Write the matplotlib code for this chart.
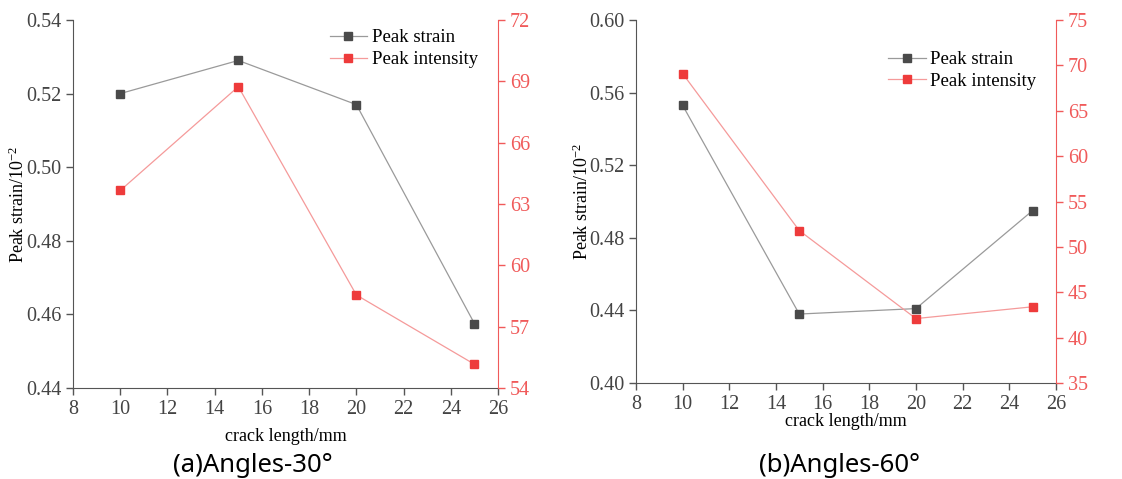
import matplotlib.pyplot as plt
import numpy as np

plt.rcParams['font.family'] = ['Liberation Serif', 'DejaVu Serif']
plt.rcParams['mathtext.fontset'] = 'custom'
plt.rcParams['mathtext.rm'] = 'Liberation Serif'
plt.rcParams['mathtext.it'] = 'Liberation Serif:italic'
plt.rcParams['axes.unicode_minus'] = False

crack_length = [10, 15, 20, 25]

strain_30 = [0.520, 0.529, 0.517, 0.4575]
intensity_30 = [63.66, 68.74, 58.55, 55.16]

strain_60 = [0.553, 0.438, 0.441, 0.495]
intensity_60 = [69.1, 51.8, 42.1, 43.4]

GRAY_LINE = '#9a9a9a'
GRAY_MARK = '#4a4a4a'
RED_LINE = '#f59a9a'
RED_MARK = '#ee3b3b'
RED_AXIS = '#f05a5a'
TICK_TXT = '#444444'

fig = plt.figure(figsize=(11.22, 4.79), dpi=100)


def draw_panel(rect, strain, intensity, ylim1, yticks1, ylim2, yticks2,
               xlabel_y, caption, caption_x, legend_anchor):
    ax = fig.add_axes(rect)
    ax2 = ax.twinx()

    l1, = ax.plot(crack_length, strain, color=GRAY_LINE, lw=0.9,
                  marker='s', ms=6, mfc=GRAY_MARK, mec=GRAY_MARK,
                  label='Peak strain')
    l2, = ax2.plot(crack_length, intensity, color=RED_LINE, lw=0.9,
                   marker='s', ms=6, mfc=RED_MARK, mec=RED_MARK,
                   label='Peak intensity')

    ax.set_xlim(8, 26)
    ax.set_xticks(np.arange(8, 27, 2))
    ax.set_ylim(*ylim1)
    ax.set_yticks(yticks1)
    ax.set_yticklabels([f'{v:.2f}' for v in yticks1])
    ax2.set_ylim(*ylim2)
    ax2.set_yticks(yticks2)

    for a in (ax, ax2):
        a.spines['top'].set_visible(False)
    ax.spines['right'].set_visible(False)
    ax.spines['left'].set_color('#555555')
    ax.spines['bottom'].set_color('#555555')
    ax2.spines['left'].set_visible(False)
    ax2.spines['bottom'].set_visible(False)
    ax2.spines['right'].set_color(RED_AXIS)

    ax.tick_params(axis='both', direction='out', length=5, width=1,
                   color='#555555', labelsize=14.5, labelcolor=TICK_TXT)
    ax2.tick_params(axis='y', direction='out', length=5, width=1,
                    color=RED_AXIS, labelsize=14.5, labelcolor=RED_AXIS)

    ax.set_ylabel('Peak strain/10$^{-2}$', fontsize=13)
    ax.yaxis.set_label_coords(-0.105, 0.5)

    fig.text(rect[0] + rect[2] * 0.5, xlabel_y, 'crack length/mm',
             ha='center', va='center', fontsize=13)
    fig.text(caption_x, 0.028, caption, ha='center', va='center',
             fontsize=18.5, family=['Noto Sans', 'DejaVu Sans'])

    ax.legend([l1, l2], ['Peak strain', 'Peak intensity'], frameon=False,
              fontsize=13.5, loc='upper left', bbox_to_anchor=legend_anchor,
              handlelength=2.0, handletextpad=0.25, labelspacing=0.25,
              borderaxespad=0)
    return ax, ax2


draw_panel([0.0651, 0.19, 0.3788, 0.7683], strain_30, intensity_30,
           (0.44, 0.54), [0.44, 0.46, 0.48, 0.50, 0.52, 0.54],
           (54, 72), [54, 57, 60, 63, 66, 69, 72],
           0.088, '(a)Angles-30°', 0.225, (0.586, 0.995))

draw_panel([0.5668, 0.2004, 0.3743, 0.7578], strain_60, intensity_60,
           (0.40, 0.60), [0.40, 0.44, 0.48, 0.52, 0.56, 0.60],
           (35, 75), [35, 40, 45, 50, 55, 60, 65, 70, 75],
           0.12, '(b)Angles-60°', 0.748, (0.583, 0.935))

fig.savefig('out.png', dpi=100)
